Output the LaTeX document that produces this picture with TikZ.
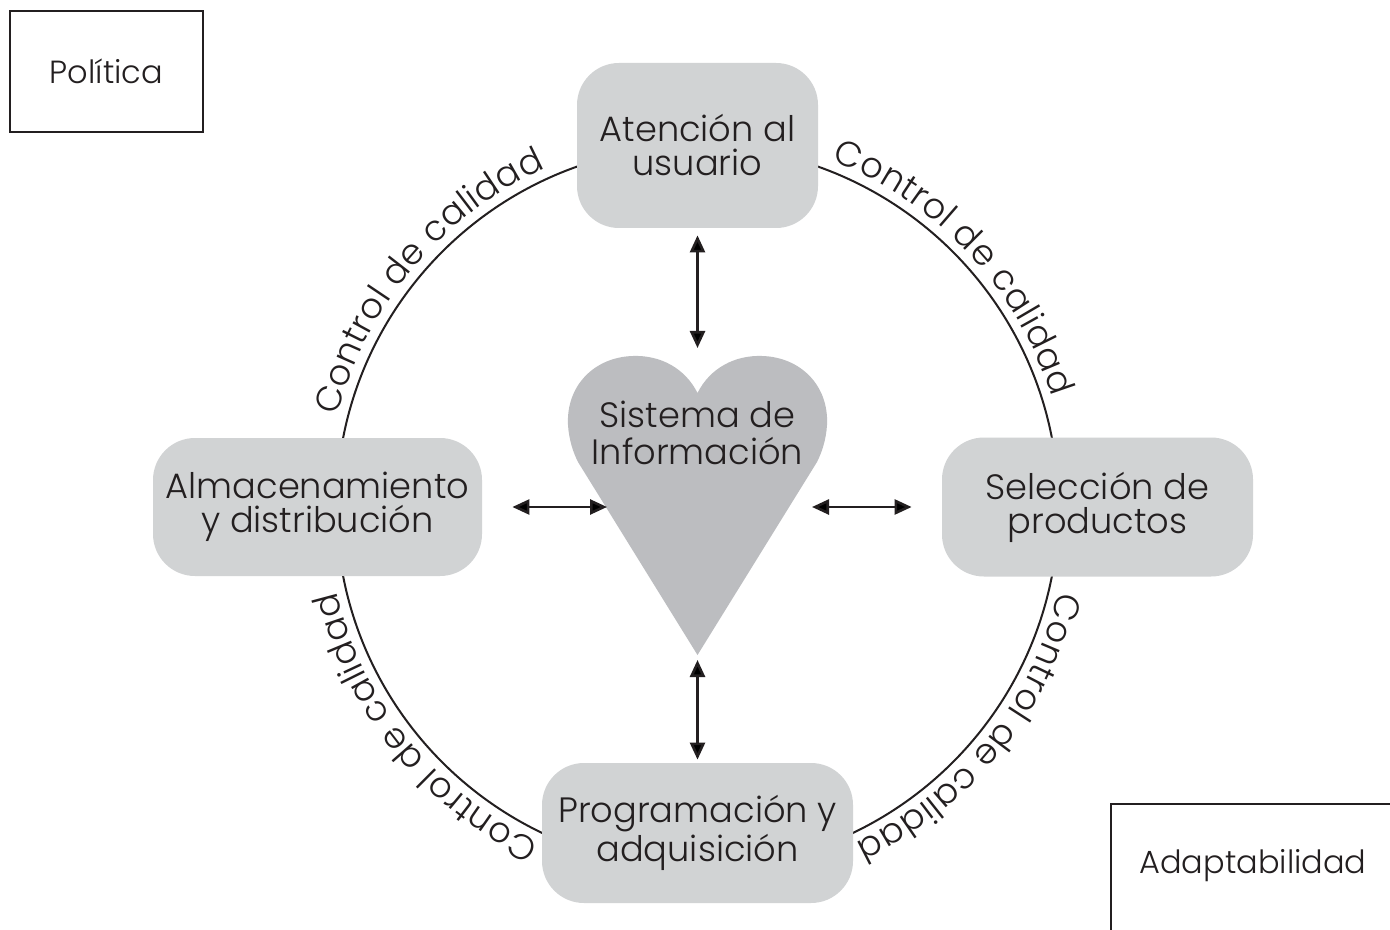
\documentclass[tikz,border=0pt]{standalone}
\usepackage{fontspec}
\setmainfont{Poppins}[UprightFont={* Light}]
\usetikzlibrary{arrows.meta,decorations.text,calc}
\definecolor{boxgray}{HTML}{D1D3D4}
\definecolor{heartgray}{HTML}{BCBDC0}
\definecolor{ink}{HTML}{231F20}
\newcommand\mainfs{\fontsize{17.6}{17}\selectfont}
\newcommand\heartfs{\fontsize{17.6}{18.5}\selectfont}
\newcommand\framefs{\fontsize{16}{17}\selectfont}
\begin{document}
\begin{tikzpicture}[x=0.5pt,y=-0.5pt,
  roundbox/.style={fill=boxgray, rounded corners=21pt, inner sep=0pt, align=center, font=\mainfs, text=ink},
  framebox/.style={draw=ink, line width=1.2pt},
  lbl/.style={font=\mainfs, text=ink, align=center, inner sep=0pt},
  biarr/.style={draw=ink, line width=1.3pt, {Triangle[length=8.5pt,width=7.5pt]}-{Triangle[length=8.5pt,width=7.5pt]}},
  ctrl/.style={decorate, decoration={text along path, text={|\mainfs|Control de calidad}, text align=center, raise=5pt, text color=ink}}
]
\clip (0,0) rectangle (1390,930);
\fill[white] (0,0) rectangle (1390,930);
\coordinate (ctr) at (697.5,507);
\draw[ink, line width=1pt] (ctr) circle[radius=361];

\newcommand\ctrlarc[1]{\path[ctrl] ($(ctr)+(#1-40:361)$) arc[start angle=#1-40, end angle=#1+40, radius=361];}
\ctrlarc{-140}
\ctrlarc{-43}
\ctrlarc{39}
\ctrlarc{141}

\node[roundbox, minimum width=120.5pt, minimum height=82.5pt] (aten) at (697.5,145.5) {Atención al\\usuario};
\node[roundbox, minimum width=164.5pt, minimum height=69pt] (alm) at (317.5,507) {Almacenamiento\\y distribución};
\node[roundbox, minimum width=155.5pt, minimum height=69.5pt] (sel) at (1097.5,507) {Selección de\\productos};
\node[roundbox, minimum width=155.5pt, minimum height=70pt] (prog) at (697.5,833) {Programación y\\adquisición};

\fill[heartgray] (697.5,393) .. controls (685,368) and (660,355) .. (633,356)
  .. controls (595,357) and (566,385) .. (568,425)
  .. controls (569,440) and (573,452) .. (578,462) -- (697.5,655) -- (817,462)
  .. controls (822,452) and (826,440) .. (827,425)
  .. controls (829,385) and (800,357) .. (762,356)
  .. controls (735,355) and (710,368) .. cycle;
\node[lbl, font=\heartfs] (si) at (697.5,433) {Sistema de\\Información};

\coordinate (hT) at (697.5,348);
\coordinate (hB) at (697.5,660);
\coordinate (hL) at (607,507);
\coordinate (hR) at (812,507);
\draw[biarr, shorten <=3.5pt] (aten) -- (hT);
\draw[biarr, shorten <=1.5pt] (prog) -- (hB);
\draw[biarr, shorten <=15pt] (alm) -- (hL);
\draw[biarr, shorten <=15pt] (sel) -- (hR);

\node[framebox, lbl, font=\framefs, minimum width=96.5pt, minimum height=60.5pt] (pol) at (106.5,71.5) {Política};
\node[framebox, inner sep=0pt, minimum width=143pt, minimum height=70pt, anchor=north west] (adapt) at (1110,803) {};
\node[lbl, font=\framefs] (adapttxt) at (1253,866) {Adaptabilidad};
\end{tikzpicture}
\end{document}
